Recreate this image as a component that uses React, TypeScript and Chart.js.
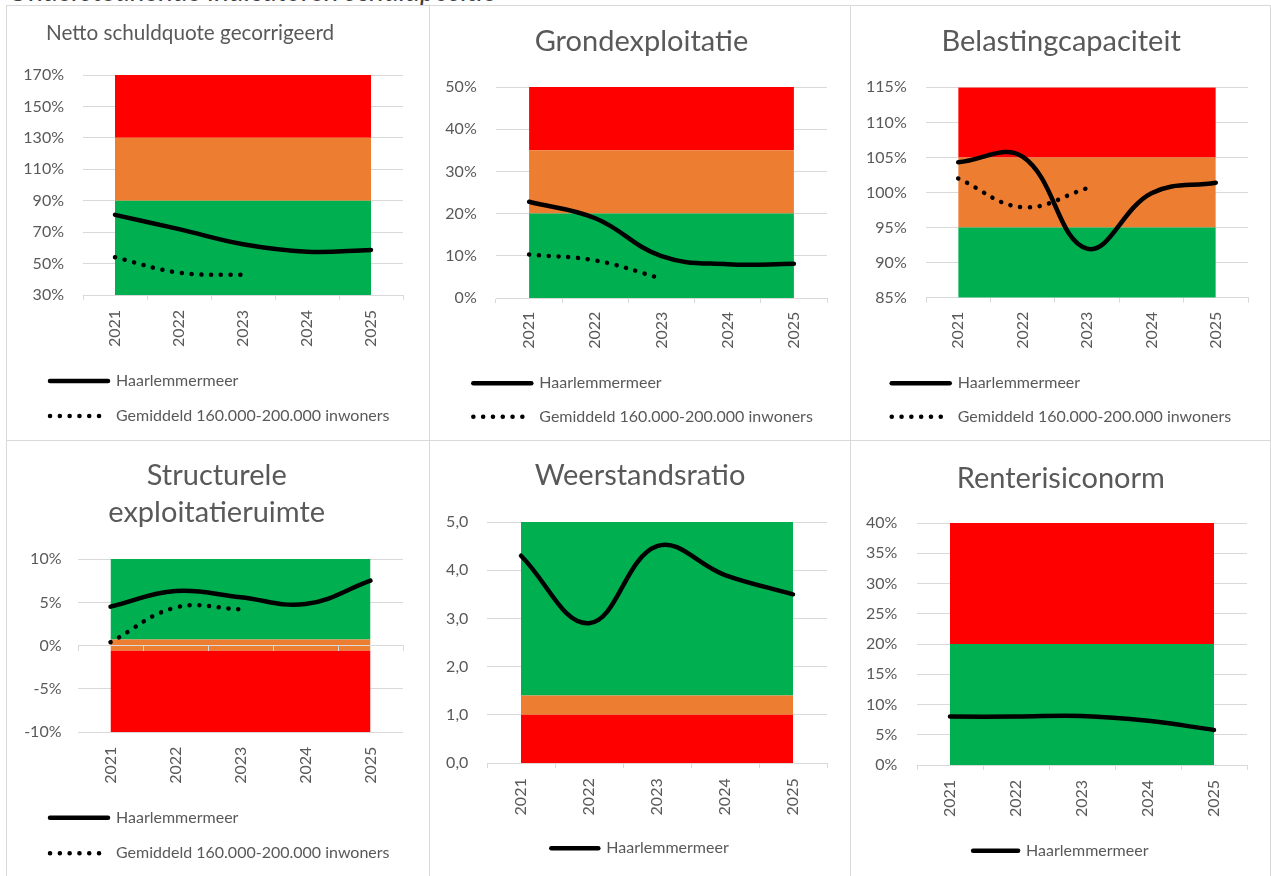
import React, { useEffect, useRef } from 'react';
import { Chart, registerables } from 'chart.js';

Chart.register(...registerables);

// ---------- data ----------
const years = ['2021', '2022', '2023', '2024', '2025'];

const nettoHaarlemmermeer = [81, 71.9, 62.3, 57.6, 58.7];
const nettoGemiddeld = [54, 44.2, 42.8, null, null];
const nettoBandEdges = [30, 90, 130, 170];

const grondHaarlemmermeer = [22.8, 18.9, 9.9, 8.0, 8.1];
const grondGemiddeld = [10.3, 8.9, 4.6, null, null];
const grondBandEdges = [0, 20, 35, 50];

const belastingHaarlemmermeer = [104.3, 105.1, 92.0, 99.9, 101.4];
const belastingGemiddeld = [102.0, 97.9, 100.6, null, null];
const belastingBandEdges = [85, 95, 105, 115];

const structHaarlemmermeer = [4.5, 6.3, 5.6, 4.8, 7.5];
const structGemiddeld = [0.4, 4.4, 4.2, null, null];
const structBandEdges = [-10, -0.6, 0.7, 10];

const weerstandHaarlemmermeer = [4.3, 2.9, 4.5, 3.9, 3.5];
const weerstandBandEdges = [0, 1.0, 1.4, 5];

const renteHaarlemmermeer = [8.0, 8.0, 8.1, 7.3, 5.8];
const renteBandEdges = [0, 20, 40];

const labelHaarlemmermeer = 'Haarlemmermeer';
const labelGemiddeld = 'Gemiddeld 160.000-200.000 inwoners';

// ---------- styles ----------
const RED = '#FF0000';
const ORANGE = '#ED7D31';
const GREEN = '#00B050';
const TEXT = '#595959';
const GRID = '#D9D9D9';
const FONT = 'Lato';

const pct = (v: number) => `${v}%`;
const dec = (v: number) => v.toFixed(1).replace('.', ',');

interface Series { label: string; data: (number | null)[]; dotted?: boolean }
interface PanelSpec {
  id: string;
  box: { left: number; top: number; width: number; height: number };
  title: string | string[];
  corner?: { x: number; y: number };
  titleSize: number;
  titleLineHeight: number;
  titlePadTop: number;
  titlePadBottom: number;
  pad: { left: number; right: number; top: number; bottom: number };
  yWidth: number;
  xHeight: number;
  yMin: number; yMax: number; yStep: number;
  yFormat: (v: number) => string;
  yPad: number;
  xPad: number;
  xTickMarks: boolean;
  zeroAxis?: boolean;
  bandEdges: number[];
  bandColors: string[];
  series: Series[];
  legendAlign: 'start' | 'center';
  legendPad: number;
  legendBoxWidth: number;
}

const panels: PanelSpec[] = [
  {
    id: 'netto',
    box: { left: 6, top: 5, width: 424, height: 436 },
    title: 'Netto schuldquote gecorrigeerd',
    corner: { x: 39, y: 27.3 },
    titleSize: 20.7, titleLineHeight: 1.2, titlePadTop: 0, titlePadBottom: 0,
    pad: { left: 24, right: 26, top: 69, bottom: 6 },
    yWidth: 52, xHeight: 59,
    yMin: 30, yMax: 170, yStep: 20, yFormat: pct, yPad: 19,
    xPad: 10, xTickMarks: true,
    bandEdges: nettoBandEdges, bandColors: [GREEN, ORANGE, RED],
    series: [
      { label: labelHaarlemmermeer, data: nettoHaarlemmermeer },
      { label: labelGemiddeld, data: nettoGemiddeld, dotted: true },
    ],
    legendAlign: 'start', legendPad: 19, legendBoxWidth: 58,
  },
  {
    id: 'grond',
    box: { left: 429, top: 5, width: 422, height: 436 },
    title: 'Grondexploitatie',
    titleSize: 29, titleLineHeight: 1.2, titlePadTop: 18.6, titlePadBottom: 27.6,
    pad: { left: 25.9, right: 23, top: 0, bottom: 5.3 },
    yWidth: 40.1, xHeight: 59.9,
    yMin: 0, yMax: 50, yStep: 10, yFormat: pct, yPad: 19.3,
    xPad: 8.7, xTickMarks: true,
    bandEdges: grondBandEdges, bandColors: [GREEN, ORANGE, RED],
    series: [
      { label: labelHaarlemmermeer, data: grondHaarlemmermeer },
      { label: labelGemiddeld, data: grondGemiddeld, dotted: true },
    ],
    legendAlign: 'start', legendPad: 17.4, legendBoxWidth: 58,
  },
  {
    id: 'belasting',
    box: { left: 850, top: 5, width: 421, height: 436 },
    title: 'Belastingcapaciteit',
    titleSize: 29, titleLineHeight: 1.2, titlePadTop: 18.6, titlePadBottom: 27.9,
    pad: { left: 23.3, right: 22, top: 0, bottom: 5.3 },
    yWidth: 51.7, xHeight: 60.2,
    yMin: 85, yMax: 115, yStep: 5, yFormat: pct, yPad: 19.3,
    xPad: 9, xTickMarks: true,
    bandEdges: belastingBandEdges, bandColors: [GREEN, ORANGE, RED],
    series: [
      { label: labelHaarlemmermeer, data: belastingHaarlemmermeer },
      { label: labelGemiddeld, data: belastingGemiddeld, dotted: true },
    ],
    legendAlign: 'start', legendPad: 17.4, legendBoxWidth: 58,
  },
  {
    id: 'struct',
    box: { left: 6, top: 440, width: 424, height: 437 },
    title: ['Structurele', 'exploitatieruimte'],
    titleSize: 29, titleLineHeight: 1.266, titlePadTop: 16.65, titlePadBottom: 27.95,
    pad: { left: 23.4, right: 26, top: 0, bottom: 4.7 },
    yWidth: 47.6, xHeight: 57.8,
    yMin: -10, yMax: 10, yStep: 5, yFormat: pct, yPad: 16.5,
    xPad: 14.4, xTickMarks: false, zeroAxis: true,
    bandEdges: structBandEdges, bandColors: [RED, ORANGE, GREEN],
    series: [
      { label: labelHaarlemmermeer, data: structHaarlemmermeer },
      { label: labelGemiddeld, data: structGemiddeld, dotted: true },
    ],
    legendAlign: 'start', legendPad: 19.6, legendBoxWidth: 58,
  },
  {
    id: 'weerstand',
    box: { left: 429, top: 440, width: 422, height: 437 },
    title: 'Weerstandsratio',
    titleSize: 29, titleLineHeight: 1.2, titlePadTop: 17.6, titlePadBottom: 28.6,
    pad: { left: 23, right: 23, top: 0, bottom: 9.7 },
    yWidth: 34, xHeight: 67.3,
    yMin: 0, yMax: 5, yStep: 1, yFormat: dec, yPad: 18.7,
    xPad: 10.3, xTickMarks: true,
    bandEdges: weerstandBandEdges, bandColors: [RED, ORANGE, GREEN],
    series: [{ label: labelHaarlemmermeer, data: weerstandHaarlemmermeer }],
    legendAlign: 'center', legendPad: 10, legendBoxWidth: 47,
  },
  {
    id: 'rente',
    box: { left: 850, top: 440, width: 421, height: 437 },
    title: 'Renterisiconorm',
    titleSize: 29, titleLineHeight: 1.2, titlePadTop: 19.9, titlePadBottom: 27.3,
    pad: { left: 23.6, right: 23, top: 0, bottom: 7.3 },
    yWidth: 42.4, xHeight: 67.7,
    yMin: 0, yMax: 40, yStep: 5, yFormat: pct, yPad: 19.7,
    xPad: 10, xTickMarks: true,
    bandEdges: renteBandEdges, bandColors: [GREEN, RED],
    series: [{ label: labelHaarlemmermeer, data: renteHaarlemmermeer }],
    legendAlign: 'center', legendPad: 10, legendBoxWidth: 45,
  },
];

const DOT_DASH = [0.1, 9.7];

const cornerTitlePlugin = {
  id: 'cornerTitle',
  afterDraw(chart: any, _args: any, opts: any) {
    if (!opts || !opts.text) return;
    const ctx = chart.ctx;
    ctx.save();
    ctx.font = `${opts.size}px ${FONT}`;
    ctx.fillStyle = TEXT;
    ctx.textAlign = 'left';
    ctx.textBaseline = 'middle';
    ctx.fillText(opts.text, opts.x, opts.y);
    ctx.restore();
  },
};

// let the y tick labels use the space left of the axis box (no clipping)
const unclipYLabelsPlugin = {
  id: 'unclipYLabels',
  afterLayout(chart: any) {
    const y = chart.scales && chart.scales.y;
    if (y) y.left = 0;
  },
};

function buildConfig(s: PanelSpec): any {
  const datasets: any[] = [];
  s.series.forEach((se) => {
    datasets.push({
      label: se.label,
      data: se.data,
      borderColor: '#000000',
      backgroundColor: '#000000',
      borderWidth: 4.5,
      borderDash: se.dotted ? DOT_DASH : [],
      borderCapStyle: 'round',
      borderJoinStyle: 'round',
      pointRadius: 0,
      tension: 0.4,
      fill: false,
      order: 0,
    });
  });
  s.bandColors.forEach((color, i) => {
    const lo = s.bandEdges[i];
    const hi = s.bandEdges[i + 1];
    datasets.push({
      label: '',
      data: years.map(() => hi),
      fill: { value: lo },
      backgroundColor: color,
      borderColor: color,
      borderWidth: 0,
      pointRadius: 0,
      tension: 0,
      order: 1,
    });
  });

  const scales: any = {
    x: {
      type: 'category',
      offset: true,
      grid: {
        display: s.xTickMarks,
        offset: true,
        drawOnChartArea: false,
        drawTicks: s.xTickMarks,
        tickLength: 5,
        color: GRID,
      },
      border: { display: s.xTickMarks, color: GRID },
      ticks: {
        minRotation: 90,
        maxRotation: 90,
        autoSkip: false,
        padding: s.xPad,
        color: TEXT,
        font: { family: FONT, size: 16 },
      },
      afterFit: (sc: any) => { sc.height = s.xHeight; },
    },
    y: {
      min: s.yMin,
      max: s.yMax,
      grid: { color: GRID, drawTicks: false, lineWidth: 1 },
      border: { display: false },
      ticks: {
        stepSize: s.yStep,
        padding: s.yPad,
        color: TEXT,
        font: { family: FONT, size: 16 },
        callback: (v: any) => s.yFormat(Number(v)),
      },
      afterFit: (sc: any) => { sc.width = s.yWidth; },
    },
  };
  if (s.zeroAxis) {
    scales.x2 = {
      type: 'category',
      axis: 'x',
      labels: years,
      position: { y: 0 },
      offset: true,
      grid: {
        display: true,
        offset: true,
        drawOnChartArea: false,
        drawTicks: true,
        tickLength: 5,
        color: GRID,
        z: 1,
      },
      border: { display: true, color: GRID, z: 1 },
      ticks: { display: false },
    };
  }

  const plugins: any[] = [unclipYLabelsPlugin];
  if (s.corner) plugins.push(cornerTitlePlugin);

  return {
    type: 'line',
    data: { labels: years, datasets },
    plugins,
    options: {
      responsive: false,
      animation: false,
      devicePixelRatio: 1,
      events: [],
      layout: { padding: s.pad },
      scales,
      plugins: {
        tooltip: { enabled: false },
        cornerTitle: s.corner
          ? { text: s.title, x: s.corner.x, y: s.corner.y, size: s.titleSize }
          : {},
        title: {
          display: !s.corner,
          text: s.title,
          color: TEXT,
          align: 'center',
          font: { family: FONT, size: s.titleSize, weight: 'normal', lineHeight: s.titleLineHeight },
          padding: { top: s.titlePadTop, bottom: s.titlePadBottom },
        },
        legend: {
          display: true,
          position: 'bottom',
          align: s.legendAlign,
          labels: {
            usePointStyle: true,
            pointStyle: 'line',
            pointStyleWidth: s.legendBoxWidth,
            padding: s.legendPad,
            color: TEXT,
            font: { family: FONT, size: 16 },
            generateLabels: (chart: any) =>
              chart.data.datasets
                .map((d: any, i: number) => ({
                  text: d.label,
                  fillStyle: '#000000',
                  strokeStyle: '#000000',
                  fontColor: TEXT,
                  lineWidth: d.borderWidth,
                  lineDash: d.borderDash || [],
                  lineCap: 'round',
                  lineJoin: 'round',
                  pointStyle: 'line',
                  hidden: false,
                  datasetIndex: i,
                }))
                .filter((it: any) => it.text !== ''),
          },
        },
      },
    },
  };
}

function Panel({ spec }: { spec: PanelSpec }) {
  const ref = useRef<HTMLCanvasElement>(null);
  useEffect(() => {
    if (!ref.current) return;
    const chart = new Chart(ref.current, buildConfig(spec));
    return () => chart.destroy();
  }, [spec]);
  const { left, top, width, height } = spec.box;
  return (
    <div
      style={{
        position: 'absolute',
        left,
        top,
        width,
        height,
        border: `1px solid ${GRID}`,
        boxSizing: 'border-box',
        background: '#ffffff',
      }}
    >
      <canvas ref={ref} width={width - 2} height={height - 2} style={{ display: 'block' }} />
    </div>
  );
}

export default function App() {
  return (
    <div
      style={{
        position: 'fixed',
        left: 0,
        top: 0,
        width: 1271,
        height: 876,
        overflow: 'hidden',
        background: '#ffffff',
        fontFamily: FONT,
      }}
    >
      <div
        style={{
          position: 'absolute',
          left: 8,
          top: -22.8,
          fontSize: 28,
          lineHeight: '26px',
          fontStyle: 'italic',
          color: '#404040',
          whiteSpace: 'nowrap',
        }}
      >
        Ondersteunende indicatoren schuldpositie
      </div>
      {panels.map((p) => (
        <Panel key={p.id} spec={p} />
      ))}
    </div>
  );
}
